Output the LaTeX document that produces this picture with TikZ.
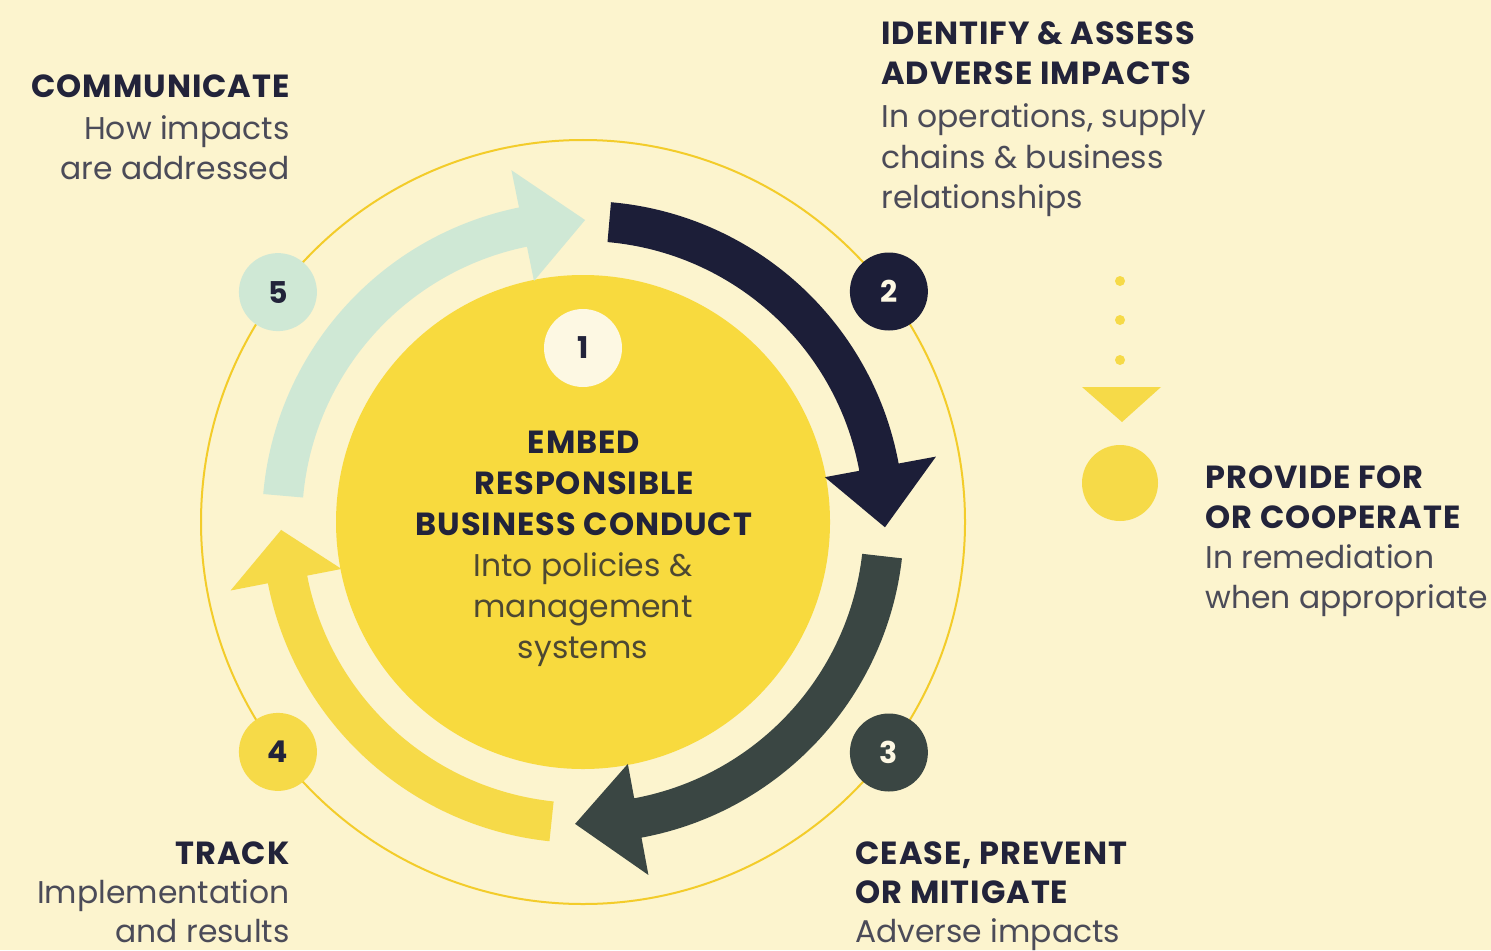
\documentclass[tikz,border=0pt]{standalone}
\usepackage{fontspec}
\setmainfont{Poppins}
\definecolor{bg}{HTML}{FCF4CE}
\definecolor{yelc}{HTML}{F8DA3E}
\definecolor{ringc}{HTML}{F3CC2A}
\definecolor{navy}{HTML}{1C1E38}
\definecolor{slate}{HTML}{3A4643}
\definecolor{mint}{HTML}{CFE8D5}
\definecolor{yarrow}{HTML}{F6DA48}
\definecolor{cream}{HTML}{FDF8E3}
\definecolor{headc}{HTML}{22233A}
\definecolor{bodyc}{HTML}{4B4B58}
\definecolor{bodyin}{HTML}{4D4832}
\tikzset{
  head/.style={font=\fontsize{16}{19}\selectfont\bfseries\addfontfeature{LetterSpace=3}, text=headc, inner sep=0},
  body/.style={font=\fontsize{15.7}{19}\selectfont, text=bodyc, inner sep=0},
  num/.style={circle, inner sep=0, minimum size=39pt, font=\fontsize{15}{18}\selectfont\bfseries},
  ring/.style={draw=ringc, line width=1pt}
}
\newcommand{\ringarrow}[4]{%
  \fill[#1] ([shift={(#2:321)}]C) arc[start angle=#2, end angle=#3, radius=321]
    -- ([shift={(#3:359)}]C) -- ([shift={(#4:302)}]C) -- ([shift={(#3:246)}]C)
    -- ([shift={(#3:281)}]C) arc[start angle=#3, end angle=#2, radius=281] -- cycle;}
\begin{document}
\begin{tikzpicture}[x=0.5pt,y=0.5pt]
\useasboundingbox (0,0) rectangle (1491,950);
\fill[bg] (0,0) rectangle (1491,950);
\coordinate (C) at (583,428);
% outer thin ring
\draw[ring] (C) circle[radius=382];
% core
\node[circle, fill=yelc, minimum size=494pt*0.5, inner sep=0] (core) at (C) {};
% arrows
\ringarrow{navy}{85}{10.5}{-1}
\ringarrow{slate}{-6.5}{-79.5}{-91.5}
\ringarrow{yarrow}{-96}{-169}{-178.5}
\ringarrow{mint}{175}{101.5}{89.6}
% number circles
\node[num, fill=cream, text=headc] (n1) at (583,602) {1};
\node[num, fill=navy, text=cream] (n2) at ([shift={(37:383)}]C) {2};
\node[num, fill=slate, text=cream] (n3) at ([shift={(-37:383)}]C) {3};
\node[num, fill=yarrow, text=headc] (n4) at ([shift={(-143:382)}]C) {4};
\node[num, fill=mint, text=headc] (n5) at ([shift={(143:382)}]C) {5};
% centre text
\node[head, anchor=base] (c1) at (584,497) {EMBED};
\node[head, anchor=base] (c2) at (584,456) {RESPONSIBLE};
\node[head, anchor=base] (c3) at (584,415) {BUSINESS CONDUCT};
\node[body, text=bodyin, anchor=base] (c4) at (583,374) {Into policies \&};
\node[body, text=bodyin, anchor=base] (c5) at (583,333) {management};
\node[body, text=bodyin, anchor=base] (c6) at (583,292) {systems};
% communicate
\node[head, anchor=base east] (m1) at (290,852) {COMMUNICATE};
\node[body, anchor=base east] (m2) at (290,810) {How impacts};
\node[body, anchor=base east] (m3) at (290,770) {are addressed};
% identify
\node[head, anchor=base west] (i1) at (881,905) {IDENTIFY \& ASSESS};
\node[head, anchor=base west] (i2) at (881,865) {ADVERSE IMPACTS};
\node[body, anchor=base west] (i3) at (881,822) {In operations, supply};
\node[body, anchor=base west] (i4) at (881,782) {chains \& business};
\node[body, anchor=base west] (i5) at (881,742) {relationships};
% provide
\node[head, anchor=base west] (p1) at (1205,462) {PROVIDE FOR};
\node[head, anchor=base west] (p2) at (1205,422) {OR COOPERATE};
\node[body, anchor=base west] (p3) at (1205,382) {In remediation};
\node[body, anchor=base west] (p4) at (1205,342) {when appropriate};
% track
\node[head, anchor=base east] (t1) at (290,86) {TRACK};
\node[body, anchor=base east] (t2) at (290,47) {Implementation};
\node[body, anchor=base east] (t3) at (290,8) {and results};
% cease
\node[head, anchor=base west] (s1) at (855,86) {CEASE, PREVENT};
\node[head, anchor=base west] (s2) at (855,47) {OR MITIGATE};
\node[body, anchor=base west] (s3) at (855,8) {Adverse impacts};
% remediation symbol
\foreach \yy in {669,630,590}
  \fill[yarrow] (1120,\yy) circle[radius=5];
\fill[yarrow] (1082,563) -- (1161,563) -- (1122,528) -- cycle;
\node[circle, fill=yarrow, minimum size=38pt, inner sep=0] (rem) at (1120,467) {};
\end{tikzpicture}
\end{document}
